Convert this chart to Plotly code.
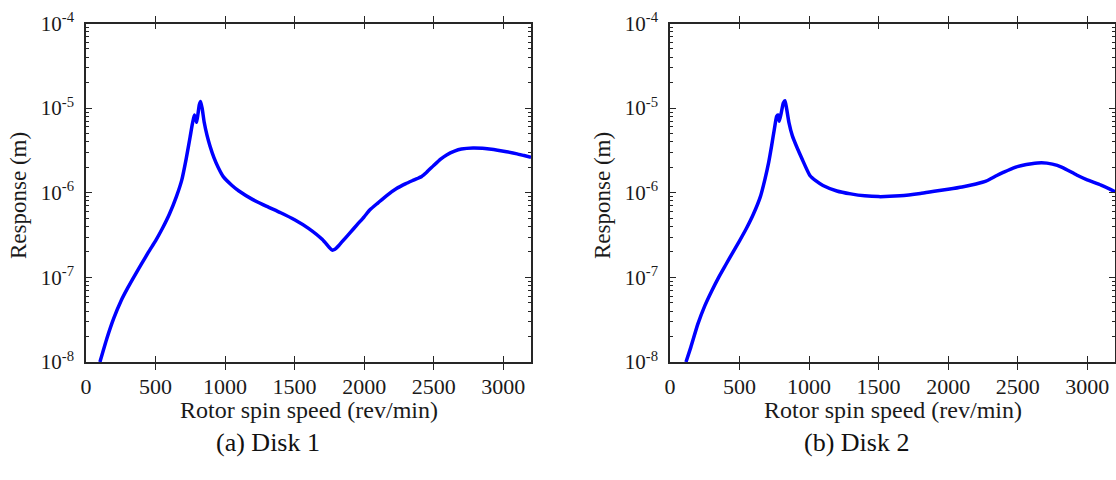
import plotly.graph_objects as go

# ---------------- data ----------------
speed_disk1 = [100, 150, 200, 250, 300, 350, 400, 450, 500, 550, 600, 650, 688, 720, 748,
               765, 779, 788, 796, 805, 815, 824, 835, 850, 870, 891, 920, 950, 987, 1050,
               1100, 1200, 1300, 1400, 1500, 1600, 1700, 1750, 1770, 1790, 1820, 1860, 1898,
               1950, 2000, 2042, 2100, 2160, 2233, 2300, 2360, 2414, 2450, 2500, 2550, 2593,
               2650, 2700, 2783, 2850, 2900, 2960, 3024, 3100, 3150, 3200]
resp_disk1 = [1.0e-8, 1.9e-8, 3.3e-8, 5.2e-8, 7.5e-8, 1.05e-7, 1.45e-7, 2.0e-7, 2.7e-7, 3.8e-7,
              5.6e-7, 9.0e-7, 1.4e-6, 2.5e-6, 4.5e-6,
              6.5e-6, 8.3e-6, 7.6e-6, 6.8e-6, 8.5e-6, 1.1e-5, 1.2e-5, 1.0e-5, 6.8e-6, 4.8e-6,
              3.6e-6, 2.6e-6, 2.0e-6, 1.55e-6, 1.22e-6,
              1.05e-6, 8.3e-7, 6.9e-7, 5.8e-7, 4.8e-7, 3.8e-7, 2.8e-7, 2.25e-7, 2.1e-7, 2.15e-7,
              2.4e-7, 2.85e-7, 3.35e-7,
              4.2e-7, 5.2e-7, 6.3e-7, 7.6e-7, 9.2e-7, 1.12e-6, 1.28e-6, 1.42e-6, 1.56e-6, 1.75e-6,
              2.1e-6, 2.5e-6, 2.8e-6,
              3.1e-6, 3.28e-6, 3.38e-6, 3.35e-6, 3.28e-6, 3.18e-6, 3.05e-6, 2.88e-6, 2.75e-6, 2.63e-6]

speed_disk2 = [115, 150, 200, 250, 300, 350, 400, 450, 500, 550, 600, 650, 683, 710, 731, 750,
               767, 777, 786, 800, 815, 827, 838, 855, 880, 911, 950, 1006, 1050, 1100, 1200,
               1300, 1400, 1500, 1653, 1800, 1900, 2000, 2100, 2200, 2272, 2350, 2400, 2467,
               2530, 2600, 2672, 2750, 2820, 2924, 3000, 3100, 3200]
resp_disk2 = [1.0e-8, 1.5e-8, 2.8e-8, 4.6e-8, 6.9e-8, 1.0e-7, 1.4e-7, 1.95e-7, 2.7e-7, 3.8e-7,
              5.6e-7, 9.0e-7, 1.45e-6, 2.3e-6, 3.6e-6, 5.6e-6,
              8.0e-6, 8.3e-6, 7.0e-6, 8.8e-6, 1.15e-5, 1.22e-5, 1.0e-5, 6.8e-6, 4.7e-6, 3.5e-6,
              2.5e-6, 1.6e-6, 1.38e-6, 1.22e-6, 1.05e-6,
              9.7e-7, 9.2e-7, 9.0e-7, 9.2e-7, 9.8e-7, 1.04e-6, 1.1e-6, 1.17e-6, 1.27e-6, 1.37e-6,
              1.6e-6, 1.75e-6, 1.96e-6,
              2.1e-6, 2.2e-6, 2.26e-6, 2.18e-6, 2.0e-6, 1.62e-6, 1.42e-6, 1.23e-6, 1.03e-6]

x_ticks = [0, 500, 1000, 1500, 2000, 2500, 3000]
y_tickvals = [1e-8, 1e-7, 1e-6, 1e-5, 1e-4]
y_ticktext = ["10<sup>-8</sup>", "10<sup>-7</sup>", "10<sup>-6</sup>", "10<sup>-5</sup>", "10<sup>-4</sup>"]
y_minor = [m * 10.0 ** e for e in range(-8, -4) for m in range(2, 10)]
x_title = "Rotor spin speed (rev/min)"
y_title = "Response (m)"
captions = ["(a) Disk 1", "(b) Disk 2"]

# ---------------- figure ----------------
W, H = 1116, 480
FONT = "Liberation Serif"
AX = "#262626"
TXT = "#1a1a1a"

fig = go.Figure()
fig.add_trace(go.Scatter(x=speed_disk1, y=resp_disk1, mode="lines",
                         line=dict(color="#0000FF", width=3.5, shape="spline", smoothing=0.5),
                         xaxis="x", yaxis="y", showlegend=False))
fig.add_trace(go.Scatter(x=speed_disk2, y=resp_disk2, mode="lines",
                         line=dict(color="#0000FF", width=3.5, shape="spline", smoothing=0.5),
                         xaxis="x2", yaxis="y2", showlegend=False))

panels = [(86, 531), (670, 1115)]
top_px, bot_px = 23.5, 362
ydom = [1 - bot_px / H, 1 - top_px / H]


def xa(dom, anchor):
    return dict(domain=dom, anchor=anchor, range=[0, 3200], tickvals=x_ticks,
                ticks="inside", ticklen=6, tickwidth=1, tickcolor=AX,
                showline=True, linecolor=AX, linewidth=1.5, mirror="allticks",
                showgrid=False, zeroline=False, automargin=False,
                tickfont=dict(family=FONT, size=22, color=TXT),
                ticklabelstandoff=4)


def ya(anchor):
    return dict(domain=ydom, anchor=anchor, type="log", range=[-8, -4],
                tickvals=y_tickvals, ticktext=y_ticktext,
                ticks="inside", ticklen=6, tickwidth=1, tickcolor=AX,
                showline=True, linecolor=AX, linewidth=1.5, mirror="allticks",
                showgrid=False, zeroline=False, automargin=False,
                tickfont=dict(family=FONT, size=21, color=TXT),
                ticklabelstandoff=6)


def ya_minor(anchor, over):
    return dict(domain=ydom, anchor=anchor, overlaying=over, type="log", range=[-8, -4],
                tickvals=y_minor, showticklabels=False,
                ticks="inside", ticklen=3, tickwidth=1, tickcolor=AX,
                showline=True, linecolor=AX, linewidth=1.5, mirror="allticks",
                showgrid=False, zeroline=False, automargin=False)


fig.update_layout(
    width=W, height=H, margin=dict(l=0, r=0, t=0, b=0, pad=0, autoexpand=False),
    paper_bgcolor="white", plot_bgcolor="white",
    xaxis=xa([panels[0][0] / W, panels[0][1] / W], "y"),
    yaxis=ya("x"),
    xaxis2=xa([panels[1][0] / W, panels[1][1] / W], "y2"),
    yaxis2=ya("x2"),
    yaxis3=ya_minor("x", "y"),
    yaxis4=ya_minor("x2", "y2"),
)
# invisible carriers so the minor-tick axes are drawn
fig.add_trace(go.Scatter(x=[None], y=[None], xaxis="x", yaxis="y3", showlegend=False,
                         hoverinfo="skip"))
fig.add_trace(go.Scatter(x=[None], y=[None], xaxis="x2", yaxis="y4", showlegend=False,
                         hoverinfo="skip"))

annos = []
for l, r in panels:
    cx = (l + r) / 2
    annos.append(dict(text=x_title, x=cx / W, y=1 - 410 / H, xref="paper", yref="paper",
                      showarrow=False, xanchor="center", yanchor="middle",
                      font=dict(family=FONT, size=24, color=TXT)))
    annos.append(dict(text=y_title, x=(l - 68) / W, y=1 - 196 / H, xref="paper", yref="paper",
                      showarrow=False, textangle=-90, xanchor="center", yanchor="middle",
                      font=dict(family=FONT, size=23, color=TXT)))
cap_x = [268, 856]
for i in range(2):
    annos.append(dict(text=captions[i], x=cap_x[i] / W, y=1 - 442 / H, xref="paper", yref="paper",
                      showarrow=False, xanchor="center", yanchor="middle",
                      font=dict(family=FONT, size=26, color="#111")))
fig.update_layout(annotations=annos)

fig.write_html("out.html")
